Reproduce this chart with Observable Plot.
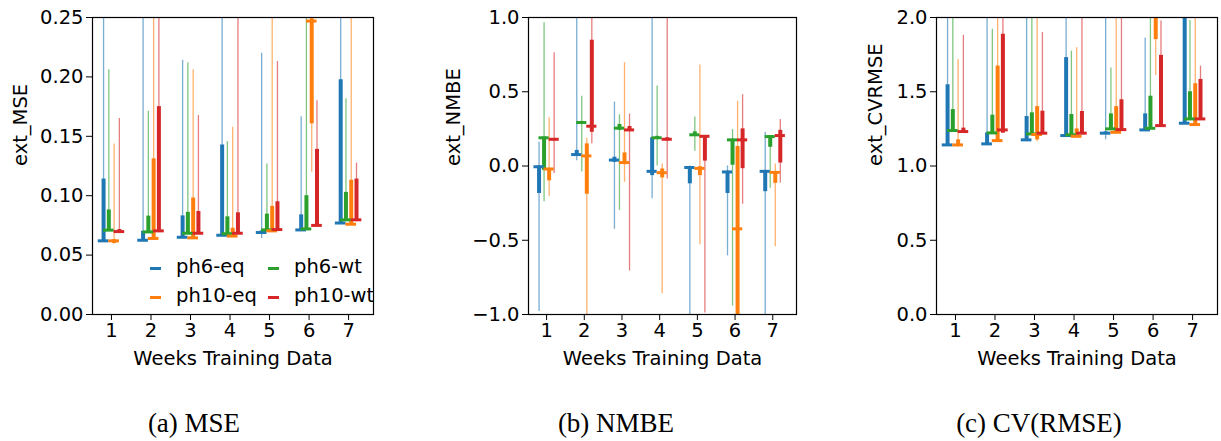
<!DOCTYPE html>
<html>
<head>
<meta charset="utf-8">
<script src="https://cdn.jsdelivr.net/npm/d3@7"></script>
<script src="https://cdn.jsdelivr.net/npm/@observablehq/plot@0.6"></script>
<style>
  body { margin: 0; background: #fff; }
  #root { position: relative; width: 1221px; height: 441px; overflow: hidden; font-family: "DejaVu Sans", sans-serif; background: #fff; }
  .panel { position: absolute; top: 0; }
  .cap { position: absolute; width: 300px; text-align: center; font-family: "Liberation Serif", serif; font-size: 27px; line-height: 28px; color: #000; }
  .leg { position: absolute; font-size: 19.5px; line-height: 22px; color: #000; white-space: nowrap; }
  .sw { position: absolute; width: 11px; height: 3px; }
</style>
</head>
<body>
<div id="root"></div>
<script>
// ---------- data ----------
const weeks = [1, 2, 3, 4, 5, 6, 7];
const seriesNames = ["ph6-eq", "ph6-wt", "ph10-eq", "ph10-wt"];
const colors = ["#1f77b4", "#2ca02c", "#ff7f0e", "#d62728"];
const legendOrder = ["ph6-eq", "ph6-wt", "ph10-eq", "ph10-wt"];

// each row: [whisker low, box low, median, box high, whisker high]
const mse_ph6eq = [[0.061,0.062,0.062,0.114,0.30],[0.062,0.0625,0.0625,0.070,0.30],[0.0645,0.065,0.065,0.083,0.214],[0.0665,0.0667,0.0667,0.1427,0.30],[0.064,0.069,0.069,0.0704,0.220],[0.071,0.0712,0.0712,0.0839,0.1664],[0.0762,0.0766,0.077,0.1976,0.30]];
const mse_ph6wt = [[0.070,0.071,0.071,0.088,0.206],[0.069,0.0695,0.0695,0.0828,0.171],[0.068,0.0684,0.0684,0.086,0.212],[0.0675,0.068,0.068,0.0822,0.1455],[0.071,0.0712,0.0712,0.0845,0.1267],[0.0715,0.072,0.072,0.100,0.30],[0.079,0.0797,0.0797,0.1028,0.1816]];
const mse_ph10eq = [[0.0595,0.0597,0.062,0.063,0.1436],[0.0635,0.064,0.064,0.131,0.30],[0.0635,0.064,0.0645,0.098,0.206],[0.0658,0.066,0.066,0.0726,0.1577],[0.0698,0.0704,0.0704,0.091,0.30],[0.1197,0.1605,0.247,0.249,0.30],[0.0755,0.076,0.076,0.113,0.30]];
const mse_ph10wt = [[0.0685,0.069,0.0698,0.0715,0.165],[0.070,0.0704,0.0704,0.175,0.30],[0.068,0.0684,0.0684,0.0867,0.1675],[0.068,0.0684,0.0684,0.0856,0.30],[0.071,0.0715,0.0715,0.0949,0.213],[0.0735,0.074,0.075,0.139,0.180],[0.079,0.079,0.0797,0.114,0.1275]];

const nmbe_ph6eq = [[-0.98,-0.185,-0.005,0.0,0.16],[0.035,0.072,0.077,0.105,1.2],[-0.426,0.025,0.04,0.059,0.43],[-0.22,-0.065,-0.036,0.19,1.2],[-1.2,-0.12,-0.01,-0.005,0.0],[-0.605,-0.185,-0.04,-0.035,0.0],[-1.2,-0.173,-0.036,-0.03,0.227]];
const nmbe_ph6wt = [[-0.24,-0.03,0.19,0.195,0.964],[-0.04,0.28,0.293,0.30,0.47],[-0.30,0.24,0.255,0.28,0.345],[0.0,0.18,0.19,0.20,0.539],[0.10,0.20,0.21,0.23,0.33],[-0.944,0.005,0.176,0.18,0.245],[-0.15,0.126,0.198,0.205,0.205]];
const nmbe_ph10eq = [[-0.205,-0.10,-0.02,-0.02,0.325],[-1.2,-0.19,0.068,0.149,0.187],[-0.11,0.018,0.023,0.088,0.696],[-0.86,-0.08,-0.045,-0.02,0.014],[-0.53,-0.065,-0.016,-0.005,0.68],[-1.2,-1.2,-0.423,0.131,0.437],[-0.543,-0.117,-0.043,-0.043,0.013]];
const nmbe_ph10wt = [[-0.05,0.17,0.18,0.185,0.763],[0.149,0.227,0.268,0.847,1.2],[-0.707,0.234,0.243,0.266,0.35],[-0.088,0.17,0.18,0.19,1.2],[-0.99,0.033,0.20,0.20,0.20],[-0.257,-0.018,0.176,0.25,0.48],[-0.115,0.02,0.205,0.24,0.313]];

const cv_ph6eq = [[1.14,1.142,1.142,1.547,2.5],[1.148,1.149,1.149,1.223,2.5],[1.175,1.176,1.176,1.333,2.5],[1.204,1.205,1.205,1.73,2.5],[1.176,1.221,1.221,1.23,2.5],[1.242,1.243,1.243,1.351,1.862],[1.287,1.288,1.288,2.5,2.5]];
const cv_ph6wt = [[1.238,1.239,1.239,1.38,2.5],[1.222,1.223,1.223,1.342,1.921],[1.215,1.216,1.216,1.358,2.5],[1.209,1.21,1.21,1.347,1.773],[1.249,1.25,1.25,1.351,1.66],[1.253,1.254,1.254,1.47,2.5],[1.316,1.317,1.317,1.50,1.98]];
const cv_ph10eq = [[1.126,1.142,1.142,1.176,1.716],[1.166,1.167,1.171,1.673,2.5],[1.164,1.176,1.212,1.40,2.5],[1.197,1.198,1.2,1.25,1.797],[1.226,1.227,1.227,1.40,2.5],[1.61,1.851,2.1,2.5,2.5],[1.278,1.279,1.279,1.554,2.5]];
const cv_ph10wt = [[1.227,1.228,1.232,1.255,1.88],[1.22,1.221,1.243,1.887,2.5],[1.211,1.212,1.221,1.369,1.899],[1.211,1.212,1.221,1.367,2.5],[1.244,1.245,1.245,1.446,2.5],[1.265,1.266,1.272,1.745,1.977],[1.312,1.313,1.317,1.583,1.673]];

const mseTicks = [0, 0.05, 0.10, 0.15, 0.20, 0.25];
const nmbeTicks = [-1.0, -0.5, 0.0, 0.5, 1.0];
const cvTicks = [0.0, 0.5, 1.0, 1.5, 2.0];
const xLabel = "Weeks Training Data";
const captions = ["(a) MSE", "(b) NMBE", "(c) CV(RMSE)"];

// ---------- layout / style ----------
const offsets = {"ph6-eq": -0.2, "ph6-wt": -0.067, "ph10-eq": 0.067, "ph10-wt": 0.2};
const tickHalf = 0.135;
const H = 372, MT = 17, MB = 58;

function toRows(seriesArrays) {
  const rows = [];
  seriesArrays.forEach((arr, si) => arr.forEach((v, wi) => rows.push({
    series: seriesNames[si], week: weeks[wi], lo: v[0], q1: v[1], med: v[2], q3: v[3], hi: v[4]
  })));
  return rows;
}

function panel({series, yDomain, yTicks, yFormat, yLabel, width, marginLeft, marginRight, labelDx}) {
  const rows = toRows(series);
  const xc = d => d.week + offsets[d.series];
  return Plot.plot({
    width, height: H, marginLeft, marginRight, marginTop: MT, marginBottom: MB,
    style: {fontFamily: "DejaVu Sans", fontSize: "19.5px", color: "#000", background: "#fff"},
    x: {domain: [0.52, 7.63], ticks: weeks, tickFormat: d => String(d), label: null},
    y: {domain: yDomain, ticks: yTicks, tickFormat: yFormat, label: null},
    color: {domain: seriesNames, range: colors},
    marks: [
      Plot.ruleX(rows, {x: xc, y1: "lo", y2: "hi", stroke: "series", strokeWidth: 1.3, strokeOpacity: 0.6, clip: true}),
      Plot.ruleX(rows, {x: xc, y1: "q1", y2: "q3", stroke: "series", strokeWidth: 4, clip: true}),
      Plot.ruleY(rows, {y: "med", x1: d => xc(d) - tickHalf, x2: d => xc(d) + tickHalf, stroke: "series", strokeWidth: 3, clip: true}),
      Plot.frame({stroke: "#000", strokeWidth: 1.2}),
      Plot.axisX({ticks: weeks, tickFormat: d => String(d), tickSize: 6, tickPadding: 3, label: null}),
      Plot.axisY({ticks: yTicks, tickFormat: yFormat, tickSize: 6, tickPadding: 3, label: null}),
      Plot.text([xLabel], {text: d => d, frameAnchor: "bottom", dy: 44, lineAnchor: "middle", fill: "#000"}),
      Plot.text([yLabel], {text: d => d, frameAnchor: "left", rotate: -90, dx: labelDx, lineAnchor: "middle", fill: "#000"})
    ]
  });
}

const root = document.getElementById("root");
const cfgs = [
  {left: 0, series: [mse_ph6eq, mse_ph6wt, mse_ph10eq, mse_ph10wt], yDomain: [0, 0.25], yTicks: mseTicks, yFormat: d3.format(".2f"), yLabel: "ext_MSE", width: 400, marginLeft: 92, marginRight: 27, labelDx: -72},
  {left: 400, series: [nmbe_ph6eq, nmbe_ph6wt, nmbe_ph10eq, nmbe_ph10wt], yDomain: [-1, 1], yTicks: nmbeTicks, yFormat: d3.format(".1f"), yLabel: "ext_NMBE", width: 410, marginLeft: 128, marginRight: 14, labelDx: -75},
  {left: 810, series: [cv_ph6eq, cv_ph6wt, cv_ph10eq, cv_ph10wt], yDomain: [0, 2], yTicks: cvTicks, yFormat: d3.format(".1f"), yLabel: "ext_CVRMSE", width: 411, marginLeft: 126, marginRight: 4, labelDx: -61}
];
const capCenters = [194, 616, 1039];
cfgs.forEach((c, i) => {
  const el = panel(c);
  el.classList.add("panel");
  el.style.left = c.left + "px";
  root.appendChild(el);
  const cap = document.createElement("div");
  cap.className = "cap";
  cap.textContent = captions[i];
  cap.style.left = (capCenters[i] - 150) + "px";
  cap.style.top = "409px";
  root.appendChild(cap);
});

// legend inside panel (a)
const legPos = {"ph6-eq": [150, 268], "ph10-eq": [150, 297], "ph6-wt": [268, 268], "ph10-wt": [268, 297]};
legendOrder.forEach(name => {
  const [x, y] = legPos[name];
  const sw = document.createElement("div");
  sw.className = "sw";
  sw.style.left = x + "px";
  sw.style.top = (y - 1.5) + "px";
  sw.style.background = colors[seriesNames.indexOf(name)];
  root.appendChild(sw);
  const t = document.createElement("div");
  t.className = "leg";
  t.textContent = name;
  t.style.left = (x + 26) + "px";
  t.style.top = (y - 12) + "px";
  root.appendChild(t);
});
</script>
</body>
</html>
